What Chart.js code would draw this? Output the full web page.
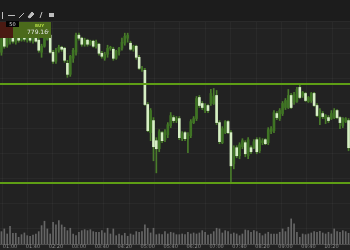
<!DOCTYPE html>
<html><head><meta charset="utf-8">
<script src="https://cdn.jsdelivr.net/npm/chart.js@4.4.1/dist/chart.umd.min.js"></script>
<style>
html,body{margin:0;padding:0;background:#222;width:350px;height:250px;overflow:hidden;font-family:"DejaVu Sans",Arial,sans-serif}
#wrap{position:relative;width:350px;height:250px}
canvas{position:absolute;left:0;top:0}
#tb{position:absolute;left:0;top:0;width:350px;height:21px;background:#1c1c1c;border-bottom:1px solid #2a2a2a}
#tb svg{position:absolute;left:0;top:0}
#red{position:absolute;left:0;top:22px;width:13px;height:16px;background:#4a1a12}
#lot{position:absolute;left:6px;top:21px;width:13px;height:6px;background:#050505;color:#ddd;font-size:5px;line-height:6px;text-align:center}
#buy{position:absolute;left:13px;top:22px;width:38px;height:16px;background:#4b6a1b}
#buy .t{position:absolute;left:22px;top:2px;font-size:4px;line-height:4px;color:#b5dc45;font-weight:bold}
#buy .p{position:absolute;left:14px;top:7px;font-size:6px;line-height:6px;color:#e6e6e6}
#buy .c{position:absolute;left:33px;top:6px;font-size:5px;line-height:5px;color:#ccc}
</style></head>
<body><div id="wrap">
<canvas id="c" width="350" height="250"></canvas>
<div id="tb"><svg width="60" height="21" viewBox="0 0 60 21">
<g stroke="#bdbdbd" stroke-width="1" fill="none">
<line x1="2.5" y1="12" x2="2.5" y2="19"/>
<line x1="8" y1="15.5" x2="15" y2="15.5"/>
<line x1="19" y1="18" x2="24" y2="13"/>
<path d="M28 17 L32 12 L34 14 L30 18 Z" fill="#bdbdbd"/>
<line x1="40" y1="18" x2="42" y2="12"/>
<rect x="49.5" y="13.5" width="4" height="3" fill="#bdbdbd"/>
</g></svg></div>
<div id="red"></div>
<div id="buy"><span class="t">BUY</span><span class="p">779.16</span><span class="c">⌄</span></div>
<div id="lot">50</div>
</div>
<script>
const categories = ['00:45','00:50','00:55','01:00','01:05','01:10','01:15','01:20','01:25','01:30','01:35','01:40','01:45','01:50','01:55','02:00','02:05','02:10','02:15','02:20','02:25','02:30','02:35','02:40','02:45','02:50','02:55','03:00','03:05','03:10','03:15','03:20','03:25','03:30','03:35','03:40','03:45','03:50','03:55','04:00','04:05','04:10','04:15','04:20','04:25','04:30','04:35','04:40','04:45','04:50','04:55','05:00','05:05','05:10','05:15','05:20','05:25','05:30','05:35','05:40','05:45','05:50','05:55','06:00','06:05','06:10','06:15','06:20','06:25','06:30','06:35','06:40','06:45','06:50','06:55','07:00','07:05','07:10','07:15','07:20','07:25','07:30','07:35','07:40','07:45','07:50','07:55','08:00','08:05','08:10','08:15','08:20','08:25','08:30','08:35','08:40','08:45','08:50','08:55','09:00','09:05','09:10','09:15','09:20','09:25','09:30','09:35','09:40','09:45','09:50','09:55','10:00','10:05','10:10','10:15','10:20','10:25','10:30','10:35','10:40','10:45','10:50'];
const tickLabels = ['01:00','01:40','02:20','03:00','03:40','04:20','05:00','05:40','06:20','07:00','07:40','08:20','09:00','09:40','10:20'];
const opens = [781.60,782.30,781.95,782.10,782.40,782.10,782.35,782.20,782.35,782.20,782.35,782.15,782.30,782.20,781.60,781.90,782.25,782.45,781.60,781.15,781.70,781.85,781.80,781.05,780.50,781.30,781.60,782.45,782.30,782.00,782.20,782.00,782.15,781.90,782.00,781.55,781.30,781.50,781.80,781.75,781.30,781.65,781.80,782.05,782.30,782.05,781.75,781.90,781.35,780.75,780.70,779.00,777.60,778.20,777.20,776.80,777.60,777.25,777.50,777.95,778.35,778.20,778.30,777.30,777.60,777.30,777.45,778.10,778.30,779.35,779.05,778.70,778.95,779.05,779.05,779.45,778.10,777.10,777.60,778.15,777.60,776.05,776.85,776.45,776.90,777.10,776.45,776.85,776.85,777.25,776.70,777.10,777.25,777.10,777.65,777.70,778.55,778.30,778.55,778.85,778.85,779.45,779.10,779.15,779.85,779.45,779.55,779.15,779.20,779.55,778.95,778.35,778.55,778.30,778.35,778.30,778.35,778.70,778.35,777.95,778.15,778.20];
const highs = [782.45,782.40,782.45,782.55,782.55,782.50,782.50,782.50,782.45,782.45,782.45,782.45,782.40,782.30,782.00,782.50,782.65,782.55,781.70,781.80,781.95,781.90,781.85,781.20,781.45,781.80,782.55,782.55,782.35,782.30,782.25,782.20,782.20,782.20,782.05,781.65,781.60,781.95,781.90,781.85,781.70,781.85,782.30,782.55,782.55,782.15,781.95,781.95,781.45,780.90,780.80,779.10,778.80,778.35,777.35,777.75,777.65,777.75,778.10,778.60,778.45,778.40,778.40,777.65,777.65,777.60,778.25,778.40,779.40,779.45,779.15,779.05,779.00,779.75,779.80,779.70,778.20,777.90,778.20,778.20,777.70,776.95,776.95,777.10,777.30,777.20,777.35,776.95,777.25,777.35,777.35,777.30,777.30,777.85,777.90,778.70,778.65,778.80,779.15,779.30,779.75,779.55,779.60,779.85,779.95,779.65,779.60,779.40,779.60,779.60,779.05,778.80,778.65,778.50,778.45,778.70,778.80,778.75,778.40,778.35,778.35,778.30];
const lows = [781.45,781.80,781.85,782.00,782.05,782.00,782.10,782.15,782.15,782.10,782.10,782.05,782.10,781.60,781.35,781.85,782.20,781.55,781.05,781.05,781.60,781.65,781.10,780.35,780.40,781.10,781.45,782.20,781.90,781.90,781.90,781.95,781.85,781.80,781.45,781.30,781.20,781.35,781.70,781.20,781.25,781.45,781.70,781.95,782.10,781.70,781.65,781.25,780.75,780.65,778.95,777.65,777.20,776.20,775.60,776.65,777.10,777.15,777.35,777.85,778.10,778.10,777.25,777.20,777.20,776.60,777.35,778.05,778.20,778.85,778.75,778.60,778.60,778.95,779.00,778.00,777.05,777.05,777.55,777.55,775.10,775.80,776.35,776.30,776.80,776.40,776.30,776.55,776.80,776.55,776.60,777.00,777.00,777.00,777.55,777.60,778.25,778.20,778.45,778.75,778.80,778.80,779.00,779.10,779.30,779.35,779.15,779.10,779.10,778.90,778.40,778.00,778.30,778.05,778.10,778.25,778.30,778.30,777.80,777.85,778.10,776.70];
const closes = [782.35,781.90,782.30,782.40,782.15,782.35,782.20,782.40,782.25,782.35,782.20,782.35,782.15,781.70,781.90,782.30,782.50,781.60,781.15,781.70,781.85,781.75,781.20,780.50,781.40,781.70,782.45,782.30,782.00,782.20,782.00,782.15,781.90,782.10,781.55,781.40,781.50,781.80,781.85,781.30,781.65,781.80,782.10,782.40,782.45,781.75,781.90,781.35,780.80,780.80,779.00,777.70,778.70,776.90,776.80,777.65,777.20,777.65,778.00,778.45,778.20,778.30,777.35,777.55,777.30,777.50,778.15,778.30,779.30,778.95,778.85,778.95,778.70,779.55,779.40,778.10,777.15,777.80,778.15,777.60,775.95,776.85,776.45,777.00,777.20,776.55,777.25,776.65,777.15,776.65,777.25,777.20,777.05,777.75,777.80,778.60,778.35,778.70,779.05,779.20,779.45,778.85,779.50,779.75,779.35,779.60,779.20,779.35,779.55,778.95,778.45,778.70,778.40,778.45,778.20,778.55,778.70,778.35,778.10,778.30,778.30,776.85];
const volumes = [123,150,100,177,107,107,67,93,110,83,77,90,100,123,183,227,150,100,217,190,233,190,167,133,157,100,83,117,133,143,133,143,123,117,117,133,110,157,100,150,83,100,83,107,77,100,90,123,117,123,190,157,110,157,93,100,93,123,100,117,110,93,93,100,93,117,100,110,100,110,133,117,90,100,123,157,150,110,133,123,100,110,100,83,100,140,133,117,133,123,107,83,100,117,100,100,100,117,150,123,167,250,200,117,67,100,93,100,110,123,117,127,110,100,117,100,150,123,117,133,123,107];
const levels = [780.00, 775.10];

const UP_BODY = '#3f7424', DOWN_BODY = '#d6efc4', WICK = '#4a7d2b';
const isUp = opens.map((o,i)=>closes[i] >= o);

const bgPlugin = {
  id:'bg',
  beforeDraw(chart){
    const {ctx, chartArea:a} = chart;
    ctx.save();
    ctx.fillStyle = '#222222';
    ctx.fillRect(0,0,chart.width,chart.height);
    ctx.strokeStyle = 'rgba(255,255,255,0.035)';
    ctx.lineWidth = 1;
    for (let x = 1.5; x < chart.width; x += 25.4) { ctx.beginPath(); ctx.moveTo(Math.round(x)+0.5, a.top); ctx.lineTo(Math.round(x)+0.5, a.bottom); ctx.stroke(); }
    for (let y = 3; y < a.bottom; y += 25) { ctx.beginPath(); ctx.moveTo(a.left, Math.round(y)+0.5); ctx.lineTo(a.right, Math.round(y)+0.5); ctx.stroke(); }
    ctx.restore();
  }
};
const levelPlugin = {
  id:'levels',
  afterDatasetsDraw(chart){
    const {ctx, chartArea:a, scales} = chart;
    ctx.save();
    ctx.strokeStyle = '#5e9e15';
    ctx.lineWidth = 2;
    levels.forEach(v=>{
      const y = Math.round(scales.y.getPixelForValue(v));
      ctx.beginPath(); ctx.moveTo(a.left,y); ctx.lineTo(a.right,y); ctx.stroke();
    });
    ctx.restore();
  }
};

new Chart(document.getElementById('c'), {
  type:'bar',
  data:{
    labels: categories,
    datasets:[
      { label:'body', data: opens.map((o,i)=>[o, closes[i]]), yAxisID:'y', grouped:false, barThickness:2, minBarLength:1,
        backgroundColor: isUp.map(u=>u?UP_BODY:DOWN_BODY), borderWidth:0 },
      { label:'wick', data: lows.map((l,i)=>[l, highs[i]]), yAxisID:'y', grouped:false, barThickness:1,
        backgroundColor: WICK, borderWidth:0 },
      { label:'volume', data: volumes, yAxisID:'yv', grouped:false, barThickness:1,
        backgroundColor:'#666666', borderWidth:0 }
    ]
  },
  options:{
    responsive:false, animation:false, devicePixelRatio:1,
    layout:{padding:0},
    plugins:{legend:{display:false}, tooltip:{enabled:false}},
    scales:{
      x:{ type:'category', offset:true,
          grid:{display:false, drawTicks:false},
          border:{display:true, color:'#4d4d4d'},
          ticks:{ autoSkip:false, maxRotation:0, minRotation:0, padding:0, color:'#8c8c8c',
                  font:{size:5, family:'DejaVu Sans'},
                  callback:(v,i)=> tickLabels.includes(categories[i]) ? categories[i] : '' } },
      y:{ display:false, min:772.06, max:784.2 },
      yv:{ display:false, min:0, max:2430 }
    }
  },
  plugins:[bgPlugin, levelPlugin]
});
</script>
</body></html>
